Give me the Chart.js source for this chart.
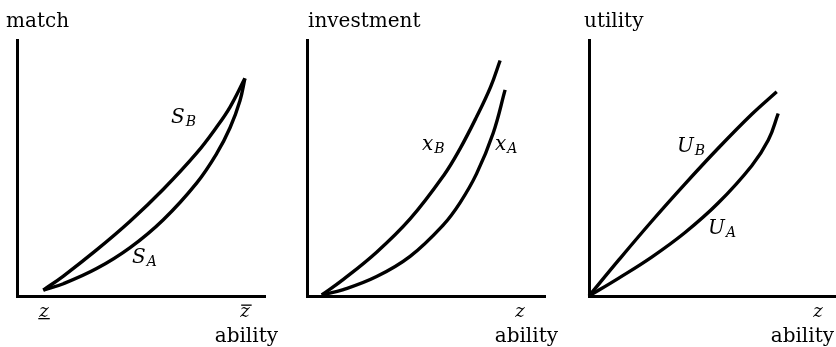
<!DOCTYPE html>
<html>
<head>
<meta charset="utf-8">
<script src="https://cdn.jsdelivr.net/npm/chart.js@4.4.1/dist/chart.umd.min.js"></script>
<style>
  html, body { margin: 0; padding: 0; background: #fff; }
  body { width: 836px; height: 347px; position: relative; overflow: hidden; }
  canvas { position: absolute; top: 0; }
</style>
</head>
<body>
<canvas id="c1" style="left:0px" width="280" height="347"></canvas>
<canvas id="c2" style="left:280px" width="278" height="347"></canvas>
<canvas id="c3" style="left:558px" width="278" height="347"></canvas>
<script>
// ---- data (abstract units, 0..100 on each axis) ----
const panelTitles = ['match', 'investment', 'utility'];
const xAxisLabel = 'ability';

// Panel 1: match
const sbX = [10.6, 18.7, 32.1, 45.6, 59.0, 72.5, 80.5, 85.9, 91.9];
const sbY = [2.3, 7.8, 18.0, 29.2, 41.7, 55.9, 66.0, 73.8, 85.0];
const saX = [10.6, 18.7, 32.1, 45.6, 59.0, 72.5, 80.5, 85.9, 89.9, 91.9];
const saY = [2.3, 4.8, 10.7, 18.9, 29.8, 44.2, 55.6, 65.7, 76.3, 85.0];

// Panel 2: investment
const xbX = [6.0, 15.1, 29.1, 43.2, 57.2, 64.2, 71.2, 77.1, 81.1];
const xbY = [0.4, 6.5, 17.1, 30.1, 46.9, 57.5, 70.0, 81.7, 92.0];
const xaX = [6.0, 15.1, 29.1, 43.2, 57.2, 64.2, 71.2, 78.2, 83.2];
const xaY = [0.4, 2.5, 7.6, 15.5, 27.8, 36.4, 47.8, 63.7, 80.5];

// Panel 3: utility
const ubX = [0, 11.9, 25.4, 38.9, 52.3, 65.9, 76.0];
const ubY = [0, 13.9, 29.2, 43.8, 57.7, 71.0, 79.8];
const uaX = [0, 11.9, 25.4, 38.9, 52.3, 65.9, 72.6, 76.6];
const uaY = [0, 6.9, 15.2, 24.8, 36.3, 50.9, 60.9, 71.3];

// x-axis tick marks (ability levels)
const ticks1 = [10.9, 91.9];
const ticks1Marks = ['under', 'over'];
const ticks2 = [89.5];
const ticks3 = [92.7];

// ---- rendering ----
const SERIF = '"DejaVu Serif", serif';

function pts(xs, ys) { return xs.map((x, i) => ({ x: x, y: ys[i] })); }

function ds(xs, ys) {
  return {
    data: pts(xs, ys),
    showLine: true,
    borderColor: '#000',
    borderWidth: 3.4,
    pointRadius: 0,
    pointHoverRadius: 0,
    tension: 0.4,
    fill: false,
    clip: false
  };
}

function textPlugin(cfg) {
  return {
    id: 'txt',
    afterDraw(chart) {
      const ctx = chart.ctx;
      const xs = chart.scales.x, ys = chart.scales.y;
      ctx.save();
      ctx.fillStyle = '#000';
      ctx.textBaseline = 'alphabetic';
      ctx.font = '20px ' + SERIF;
      ctx.textAlign = 'left';
      ctx.fillText(cfg.title, cfg.titleX, 27);
      ctx.textAlign = 'right';
      ctx.fillText(xAxisLabel, cfg.abilityRight, 342);
      ctx.font = 'italic 18px ' + SERIF;
      ctx.textAlign = 'center';
      cfg.ticks.forEach((t, i) => {
        const px = xs.getPixelForValue(t);
        ctx.fillText('z', px, 317);
        const w = ctx.measureText('z').width;
        const mark = cfg.marks ? cfg.marks[i] : null;
        if (mark === 'under') {
          ctx.fillRect(px - w / 2 - 1, 318, w + 2, 1.3);
        } else if (mark === 'over') {
          ctx.fillRect(px - w / 2 + 1, 304.5, w + 1, 1.3);
        }
      });
      ctx.textAlign = 'left';
      cfg.labels.forEach(l => {
        const px = xs.getPixelForValue(l.x);
        const py = ys.getPixelForValue(l.y);
        ctx.font = 'italic 20px ' + SERIF;
        ctx.fillText(l.main, px, py);
        const w = ctx.measureText(l.main).width;
        ctx.font = 'italic 14px ' + SERIF;
        ctx.fillText(l.sub, px + w + 1, py + 3);
      });
      ctx.restore();
    }
  };
}

function makeChart(id, datasets, padding, cfg) {
  return new Chart(document.getElementById(id), {
    type: 'scatter',
    data: { datasets: datasets },
    options: {
      responsive: false,
      animation: false,
      events: [],
      layout: { padding: padding },
      plugins: { legend: { display: false }, tooltip: { enabled: false }, title: { display: false } },
      scales: {
        x: {
          type: 'linear', min: 0, max: 100,
          ticks: { display: false },
          grid: { display: false, drawTicks: false },
          border: { display: true, color: '#000', width: 3 }
        },
        y: {
          type: 'linear', min: 0, max: 100,
          ticks: { display: false },
          grid: { display: false, drawTicks: false },
          border: { display: true, color: '#000', width: 3 }
        }
      }
    },
    plugins: [textPlugin(cfg)]
  });
}

makeChart('c1', [ds(sbX, sbY), ds(saX, saY)],
  { left: 17, right: 15, top: 40, bottom: 51 },
  { title: panelTitles[0], titleX: 6, abilityRight: 278, ticks: ticks1, marks: ticks1Marks,
    labels: [{ main: 'S', sub: 'B', x: 62.1, y: 67.6 }, { main: 'S', sub: 'A', x: 46.4, y: 12.9 }] });

makeChart('c2', [ds(xbX, xbY), ds(xaX, xaY)],
  { left: 27.5, right: 13, top: 40, bottom: 51 },
  { title: panelTitles[1], titleX: 28, abilityRight: 278, ticks: ticks2, marks: null,
    labels: [{ main: 'x', sub: 'B', x: 48.2, y: 57.0 }, { main: 'x', sub: 'A', x: 78.9, y: 57.0 }] });

makeChart('c3', [ds(ubX, ubY), ds(uaX, uaY)],
  { left: 31, right: 0, top: 40, bottom: 51 },
  { title: panelTitles[2], titleX: 26, abilityRight: 276, ticks: ticks3, marks: null,
    labels: [{ main: 'U', sub: 'B', x: 35.6, y: 56.3 }, { main: 'U', sub: 'A', x: 48.2, y: 24.2 }] });
</script>
</body>
</html>
